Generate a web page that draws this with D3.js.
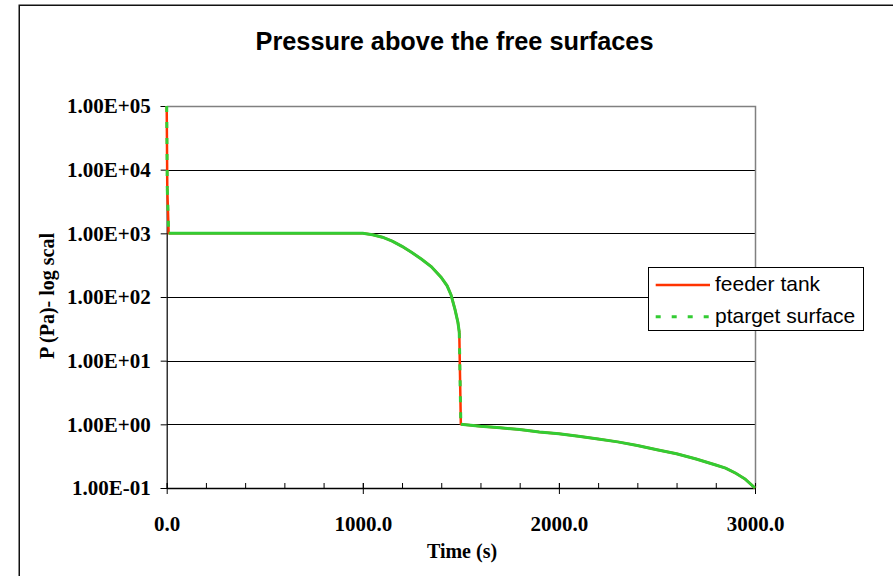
<!DOCTYPE html>
<html>
<head>
<meta charset="utf-8">
<script src="https://cdn.jsdelivr.net/npm/d3@7"></script>
<style>
  html, body { margin: 0; padding: 0; background: #fff; }
  svg { display: block; }
</style>
</head>
<body>
<svg id="chart" width="893" height="576"></svg>
<script>
// Time samples (s) and pressure above each free surface (Pa)
const times = [0, 3, 10, 100, 200, 300, 400, 500, 600, 700, 800, 900, 1000,
  1050, 1100, 1150, 1200, 1250, 1300, 1350, 1400, 1430, 1450, 1470, 1485, 1492, 1500,
  1600, 1700, 1800, 1900, 2000, 2100, 2200, 2300, 2400, 2500, 2600, 2700, 2800, 2850, 2900, 2950, 3000];
const feederTank = [100000, 5000, 1000, 1000, 1000, 1000, 1000, 1000, 1000, 1000, 1000, 1000, 1000,
  950, 870, 755, 625, 500, 392, 298, 203, 150, 108, 64, 40, 28, 1.0,
  0.93, 0.88, 0.83, 0.76, 0.71, 0.65, 0.59, 0.53, 0.465, 0.40, 0.345, 0.285, 0.23, 0.205, 0.172, 0.138, 0.1];
const ptargetSurface = [100000, 5000, 1000, 1000, 1000, 1000, 1000, 1000, 1000, 1000, 1000, 1000, 1000,
  950, 870, 755, 625, 500, 392, 298, 203, 150, 108, 64, 40, 28, 1.0,
  0.93, 0.88, 0.83, 0.76, 0.71, 0.65, 0.59, 0.53, 0.465, 0.40, 0.345, 0.285, 0.23, 0.205, 0.172, 0.138, 0.1];

const yTicks = [0.1, 1, 10, 100, 1000, 10000, 100000];
const yTickLabels = ["1.00E-01", "1.00E+00", "1.00E+01", "1.00E+02", "1.00E+03", "1.00E+04", "1.00E+05"];
const xTicks = [0, 1000, 2000, 3000];
const xTickLabels = ["0.0", "1000.0", "2000.0", "3000.0"];
const xMinorTicks = d3.range(0, 3001, 200);
const seriesNames = ["feeder tank", "ptarget surface"];

const svg = d3.select("#chart");
const margin = { left: 166.7, right: 755, top: 106, bottom: 488 };

const x = d3.scaleLinear().domain([0, 3000]).range([margin.left, margin.right]);
const y = d3.scaleLog().domain([0.1, 100000]).range([margin.bottom, margin.top]);

const serif = "'Liberation Serif', 'Times New Roman', serif";
const sans = "'Liberation Sans', Arial, sans-serif";

// Outer chart frame
svg.append("rect")
  .attr("x", 19.25).attr("y", 5.25).attr("width", 1000).attr("height", 1000)
  .attr("fill", "none").attr("stroke", "#111").attr("stroke-width", 1.5);

// Title
svg.append("text")
  .attr("x", 454.5).attr("y", 50)
  .attr("text-anchor", "middle")
  .attr("font-family", sans)
  .attr("font-weight", "bold").attr("font-size", 25.3)
  .text("Pressure above the free surfaces");

// Horizontal gridlines at each decade
svg.append("g").selectAll("line").data(yTicks).join("line")
  .attr("x1", margin.left).attr("x2", margin.right)
  .attr("y1", d => Math.round(y(d)) + 0.5).attr("y2", d => Math.round(y(d)) + 0.5)
  .attr("stroke", "#000").attr("stroke-width", 1);

// Plot-area border (top and right)
svg.append("path")
  .attr("d", `M${margin.left},${Math.round(margin.top) + 0.5}H${Math.round(margin.right) + 0.5}V${margin.bottom}`)
  .attr("fill", "none").attr("stroke", "#808080").attr("stroke-width", 1.5);

// Y axis
const yAxis = d3.axisLeft(y).tickValues(yTicks).tickSize(6).tickPadding(10)
  .tickFormat((d, i) => yTickLabels[i]);
const gy = svg.append("g").attr("transform", `translate(${margin.left},0)`).call(yAxis);
gy.select(".domain").attr("stroke", "#000").attr("stroke-width", 1.2);
gy.selectAll(".tick line").attr("stroke", "#000");
gy.selectAll(".tick text")
  .attr("font-family", serif)
  .attr("font-weight", "bold").attr("font-size", 21).attr("fill", "#000")
  .attr("dy", "0.33em");

// X axis: major ticks cross the axis, minor ticks point inward
const gxMinor = svg.append("g").attr("transform", `translate(0,${margin.bottom})`)
  .call(d3.axisTop(x).tickValues(xMinorTicks).tickSize(5).tickFormat(""));
gxMinor.select(".domain").remove();
gxMinor.selectAll(".tick line").attr("stroke", "#000");

const xAxis = d3.axisBottom(x).tickValues(xTicks).tickSizeInner(6).tickSizeOuter(0)
  .tickPadding(22).tickFormat((d, i) => xTickLabels[i]);
const gx = svg.append("g").attr("transform", `translate(0,${margin.bottom})`).call(xAxis);
gx.select(".domain").attr("stroke", "#000").attr("stroke-width", 1.5);
gx.selectAll(".tick line").attr("stroke", "#000").attr("y1", -5);
gx.selectAll(".tick text")
  .attr("font-family", serif)
  .attr("font-weight", "bold").attr("font-size", 21).attr("fill", "#000");

// Axis titles
svg.append("text")
  .attr("x", 462).attr("y", 558).attr("text-anchor", "middle")
  .attr("font-family", serif)
  .attr("font-weight", "bold").attr("font-size", 20)
  .text("Time (s)");
svg.append("text")
  .attr("transform", "translate(54,296) rotate(-90)").attr("text-anchor", "middle")
  .attr("font-family", serif)
  .attr("font-weight", "bold").attr("font-size", 20)
  .text("P (Pa)- log scal");

// Series
const pts = vals => times.map((t, i) => [x(t), y(vals[i])]);
const line = d3.line();

svg.append("path")
  .attr("d", line(pts(feederTank)))
  .attr("fill", "none").attr("stroke", "#FF3300").attr("stroke-width", 2.5)
  .attr("stroke-linejoin", "round");

// Dashed series: the dash pattern restarts on each segment, so the
// densely sampled parts read as solid and only long segments show dashes.
const gp = pts(ptargetSurface);
const green = svg.append("g");
let run = [gp[0]];
const flush = () => {
  if (run.length > 1) green.append("path").attr("d", line(run))
    .attr("fill", "none").attr("stroke", "#33CC33").attr("stroke-width", 3);
};
for (let i = 1; i < gp.length; i++) {
  const a = gp[i - 1], b = gp[i];
  const len = Math.hypot(b[0] - a[0], b[1] - a[1]);
  if (len > 24) {
    flush();
    green.append("path").attr("d", line([a, b]))
      .attr("fill", "none").attr("stroke", "#33CC33").attr("stroke-width", 3)
      .attr("stroke-dasharray", "6,10");
    run = [b];
  } else {
    run.push(b);
  }
}
flush();

// Legend
const lg = svg.append("g");
lg.append("rect").attr("x", 648.5).attr("y", 267.5).attr("width", 215).attr("height", 63)
  .attr("fill", "#fff").attr("stroke", "#000").attr("stroke-width", 1);
const rows = [
  { name: seriesNames[0], color: "#FF3300", dash: null, w: 2.5, cy: 285 },
  { name: seriesNames[1], color: "#33CC33", dash: "5,11", w: 3, cy: 316.7 }
];
rows.forEach(r => {
  lg.append("line").attr("x1", 655.7).attr("x2", 710).attr("y1", r.cy).attr("y2", r.cy)
    .attr("stroke", r.color).attr("stroke-width", r.w)
    .attr("stroke-dasharray", r.dash);
  lg.append("text").attr("x", 715).attr("y", r.cy + 6)
    .attr("font-family", sans).attr("font-size", 21)
    .text(r.name);
});
</script>
</body>
</html>
